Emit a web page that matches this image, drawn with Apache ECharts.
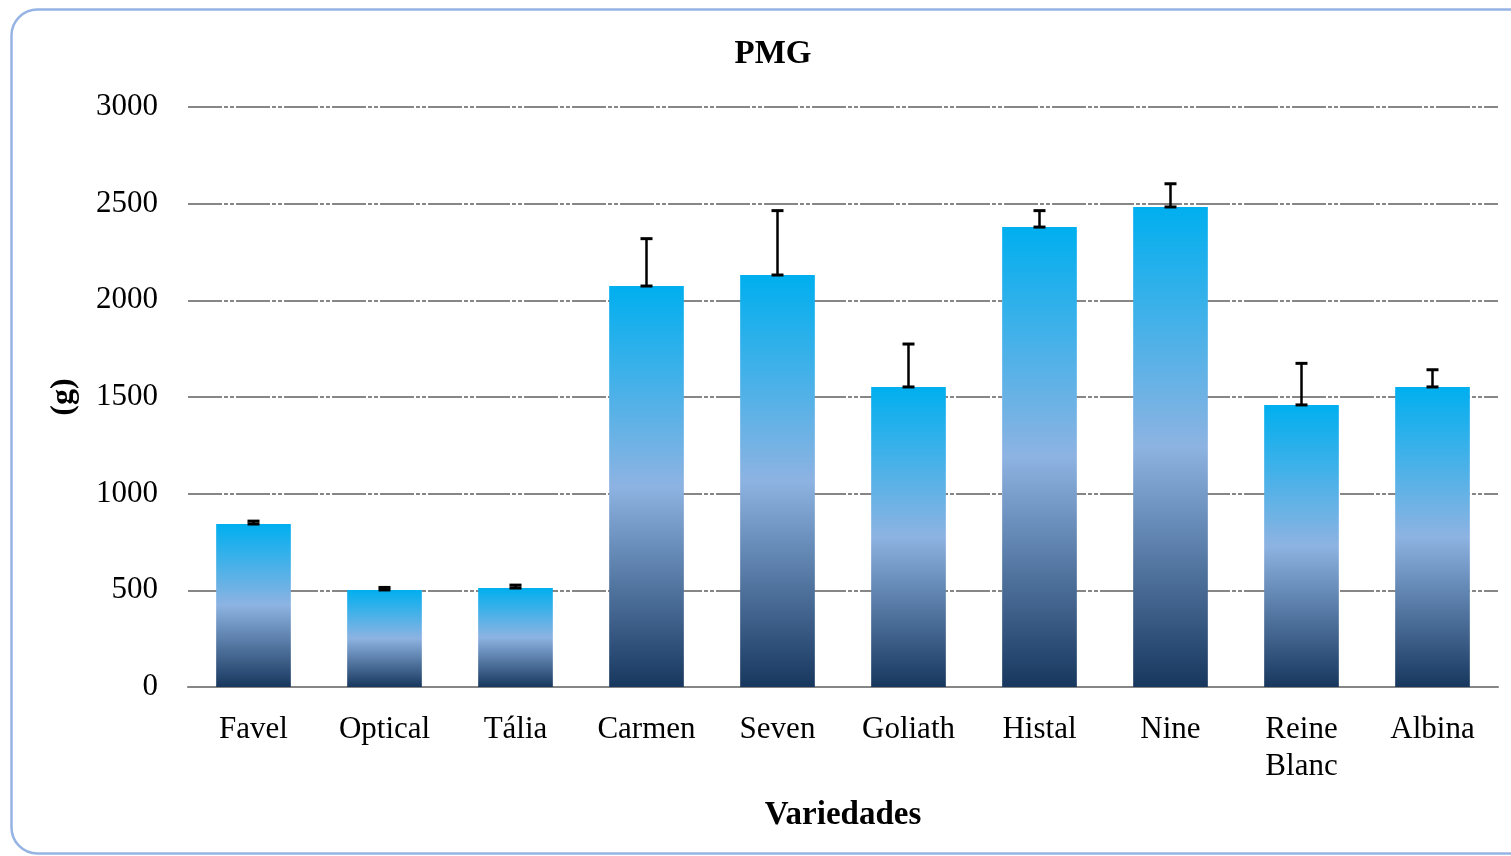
<!DOCTYPE html>
<html><head><meta charset="utf-8">
<script src="https://cdn.jsdelivr.net/npm/echarts@6/dist/echarts.min.js"></script>
<style>html,body{margin:0;padding:0;background:#fff}#c{width:1511px;height:856px}</style>
</head><body><div id="c"></div>
<script>
const categories = ['Favel','Optical','Tália','Carmen','Seven','Goliath','Histal','Nine','Reine\nBlanc','Albina'];
const values = [843, 502, 512, 2074, 2131, 1552, 2379, 2483, 1459, 1552];
const errors = [15, 13, 15, 245, 333, 222, 85, 120, 215, 89];
const yTicks = [0, 500, 1000, 1500, 2000, 2500, 3000];

const font = "'Liberation Serif', 'DejaVu Serif', serif";
const chart = echarts.init(document.getElementById('c'));
const errData = values.map((v, i) => [i, v, v + errors[i]]);

chart.setOption({
  animation: false,
  backgroundColor: '#fff',
  graphic: [{
    type: 'rect', left: 9, top: 7, shape: {width: 1530, height: 844, r: 26},
    style: {fill: 'none', stroke: '#95B3E3', lineWidth: 2.5}, z: -1
  }],
  title: {
    text: 'PMG', left: 768, top: 33, textAlign: 'center',
    textStyle: {fontFamily: font, fontWeight: 'bold', fontSize: 33, color: '#000'}
  },
  grid: {left: 188, right: 13, top: 107, bottom: 169},
  xAxis: {
    type: 'category', data: categories,
    name: 'Variedades', nameLocation: 'middle', nameGap: 112,
    nameTextStyle: {fontFamily: font, fontWeight: 'bold', fontSize: 33, color: '#000'},
    axisLine: {lineStyle: {color: '#868686', width: 2}},
    axisTick: {show: false},
    axisLabel: {fontFamily: font, fontSize: 31, color: '#000', margin: 24, lineHeight: 37, interval: 0}
  },
  yAxis: {
    type: 'value', min: yTicks[0], max: yTicks[yTicks.length - 1], interval: 500,
    name: '(g)', nameLocation: 'middle', nameGap: 108, nameRotate: 90,
    nameTextStyle: {fontFamily: font, fontWeight: 'bold', fontSize: 32, color: '#000'},
    axisLine: {show: false}, axisTick: {show: false},
    axisLabel: {fontFamily: font, fontSize: 31, color: '#000', margin: 30, formatter: v => String(v)},
    splitLine: {lineStyle: {color: '#868686', width: 2, type: [34, 2, 4, 2, 4, 2]}}
  },
  series: [{
    type: 'bar', data: values, barWidth: '57%',
    itemStyle: {
      color: new echarts.graphic.LinearGradient(0, 0, 0, 1, [
        {offset: 0, color: '#00AFEF'},
        {offset: 0.5, color: '#8DB3E2'},
        {offset: 1, color: '#17375E'}
      ])
    }
  }, {
    type: 'custom', data: errData, z: 10,
    renderItem: function (params, api) {
      const x = api.value(0);
      const lo = api.coord([x, api.value(1)]);
      const hi = api.coord([x, api.value(2)]);
      const hw = 6;
      const st = {stroke: '#000', lineWidth: 3};
      return {
        type: 'group', children: [
          {type: 'line', shape: {x1: lo[0], y1: lo[1], x2: hi[0], y2: hi[1]}, style: {stroke: '#000', lineWidth: 2.5}},
          {type: 'line', shape: {x1: lo[0] - hw, y1: hi[1], x2: lo[0] + hw, y2: hi[1]}, style: st},
          {type: 'line', shape: {x1: lo[0] - hw, y1: lo[1], x2: lo[0] + hw, y2: lo[1]}, style: st}
        ]
      };
    }
  }]
});
</script></body></html>
